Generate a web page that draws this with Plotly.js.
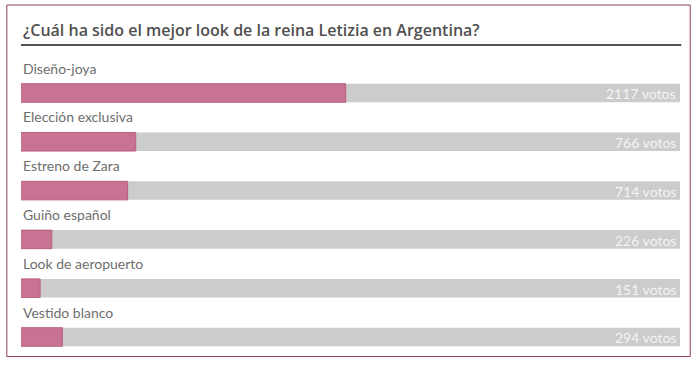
<!DOCTYPE html>
<html>
<head>
<meta charset="utf-8">
<script src="https://cdn.plot.ly/plotly-3.0.1.min.js"></script>
<style>html,body{margin:0;padding:0;background:#fff;}#chart{width:700px;height:365px;}</style>
</head>
<body>
<div id="chart"></div>
<script>
const titleText = "¿Cuál ha sido el mejor look de la reina Letizia en Argentina?";
const categories = ["Diseño-joya", "Elección exclusiva", "Estreno de Zara", "Guiño español", "Look de aeropuerto", "Vestido blanco"];
const votes = [2117, 766, 714, 226, 151, 294];
const unitLabel = "votos";

const total = votes.reduce((a, b) => a + b, 0);
const xMin = 28;
const xMax = total;
const pos = categories.map((_, i) => i);

const track = {
  type: 'bar', orientation: 'h', x: categories.map(() => xMax), y: pos,
  width: 0.38, marker: {color: '#cccccc', line: {width: 0}},
  hoverinfo: 'skip', showlegend: false
};
const fill = {
  type: 'bar', orientation: 'h', x: votes, y: pos,
  width: 0.38, marker: {color: '#c97394', line: {color: '#b8607f', width: 1}},
  hoverinfo: 'skip', showlegend: false
};

const annotations = [];
categories.forEach((c, i) => {
  annotations.push({x: 0, y: i - 0.51, xref: 'paper', yref: 'y', text: c, showarrow: false,
    xanchor: 'left', yanchor: 'middle', font: {family: 'Lato', size: 14, color: '#6e6e6e'}});
  annotations.push({x: 1, y: i + 0.02, xref: 'paper', yref: 'y', text: votes[i] + ' ' + unitLabel, showarrow: false,
    xanchor: 'right', yanchor: 'middle', xshift: -2, font: {family: 'Lato', size: 14, color: '#f4f4f4'}});
});
annotations.push({x: 0, y: 1.024, xref: 'paper', yref: 'paper', text: titleText, showarrow: false,
  xanchor: 'left', yanchor: 'bottom', font: {family: 'Open Sans', size: 16, color: '#505050', weight: 600}});

const layout = {
  width: 700, height: 365,
  margin: {l: 21, r: 20, t: 50, b: 10},
  paper_bgcolor: '#ffffff', plot_bgcolor: '#ffffff',
  barmode: 'overlay',
  xaxis: {range: [xMin, xMax], visible: false, fixedrange: true},
  yaxis: {range: [5.369, -0.881], visible: false, fixedrange: true},
  annotations: annotations,
  shapes: [
    {type: 'line', xref: 'paper', yref: 'paper', x0: 0, x1: 1.002, y0: 1.016, y1: 1.016,
      line: {color: '#555555', width: 2}},
    {type: 'rect', xref: 'paper', yref: 'paper', x0: -0.0215, x1: 1.0155, y0: -0.005, y1: 1.1475,
      line: {color: '#8a3d62', width: 1}}
  ]
};

Plotly.newPlot('chart', [track, fill], layout, {displayModeBar: false, staticPlot: true});
</script>
</body>
</html>
